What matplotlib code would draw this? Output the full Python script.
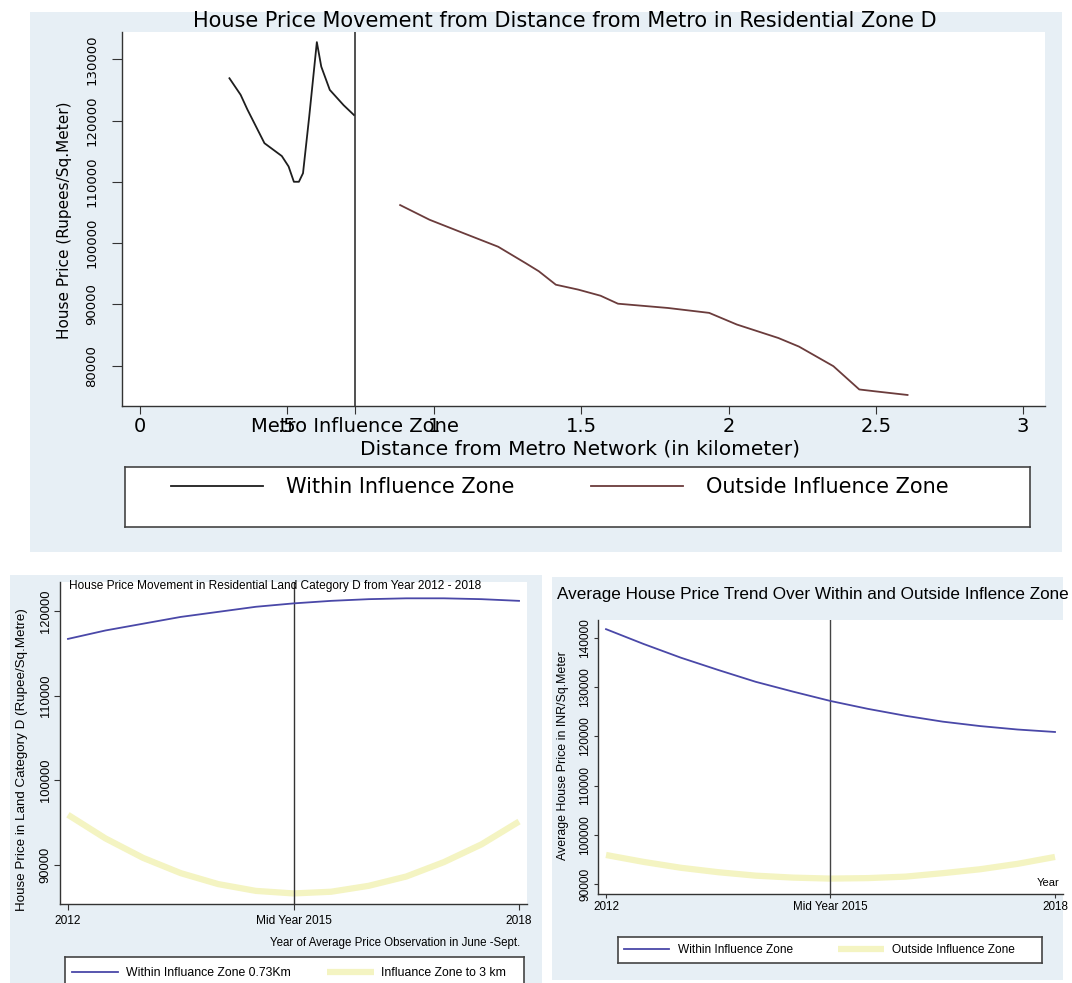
import matplotlib
matplotlib.use('Agg')
import matplotlib.pyplot as plt
from matplotlib.patches import Rectangle

W, H = 1072, 983

# top chart: price vs distance (km)
within_dist = [0.304, 0.342, 0.365, 0.423, 0.482, 0.505, 0.523, 0.540, 0.554, 0.575, 0.601, 0.616, 0.645, 0.692, 0.727]
within_price = [126900, 124200, 121800, 116300, 114200, 112500, 110000, 110000, 111400, 120600, 132800, 128800, 125000, 122500, 120900]
outside_dist = [0.884, 0.984, 1.100, 1.217, 1.311, 1.355, 1.413, 1.489, 1.565, 1.624, 1.794, 1.934, 2.028,
                2.169, 2.239, 2.356, 2.444, 2.497, 2.608]
outside_price = [106200, 103800, 101600, 99400, 96700, 95400, 93200, 92400, 91400, 90100, 89400, 88600, 86700,
                 84500, 83100, 79900, 76100, 75800, 75200]
dist_ticks = [0, 0.5, 0.73, 1, 1.5, 2, 2.5, 3]
dist_labels = ['0', '.5', 'Metro Influence Zone', '1', '1.5', '2', '2.5', '3']

# bottom charts: fitted curves read every half year
years = [2012, 2012.5, 2013, 2013.5, 2014, 2014.5, 2015, 2015.5, 2016, 2016.5, 2017, 2017.5, 2018]
year_ticks = [2012, 2015, 2018]
year_labels = ['2012', 'Mid Year 2015', '2018']
cat_d_within = [116700, 117700, 118500, 119300, 119900, 120500, 120900, 121200, 121400, 121500, 121500, 121400, 121200]
cat_d_outside = [95900, 93100, 90800, 89000, 87700, 86900, 86600, 86800, 87500, 88600, 90300, 92400, 95100]
avg_within = [141800, 138800, 136000, 133500, 131100, 129100, 127200, 125600, 124200, 123000, 122100, 121400, 120900]
avg_outside = [95900, 94500, 93300, 92400, 91700, 91300, 91100, 91200, 91500, 92200, 93000, 94100, 95500]

BG = '#E7EFF5'
BLUE = '#4a48a8'
YELLOW = '#F4F4C2'


def box(l, t, r, b):
    return [l / W, 1 - b / H, (r - l) / W, (b - t) / H]


def panel(fig, l, t, r, b):
    fig.patches.append(Rectangle((l / W, 1 - b / H), (r - l) / W, (b - t) / H,
                                 transform=fig.transFigure, facecolor=BG, edgecolor='none', zorder=-5))


def stata_axes(ax):
    ax.spines['top'].set_visible(False)
    ax.spines['right'].set_visible(False)
    for s in ['left', 'bottom']:
        ax.spines[s].set_color('#333333')
        ax.spines[s].set_linewidth(1.0)
    ax.set_facecolor('white')


def legend_box(fig, l, t, r, b):
    lax = fig.add_axes(box(l, t, r, b))
    lax.set_xticks([])
    lax.set_yticks([])
    lax.set_facecolor('white')
    for s in lax.spines.values():
        s.set_color('#444444')
        s.set_linewidth(1.2)
    return lax


fig = plt.figure(figsize=(W / 100, H / 100), dpi=100)
panel(fig, 30, 12, 1062, 552)
panel(fig, 10, 575, 542, 983)
panel(fig, 552, 577, 1063, 980)

# ---- top chart
ax = fig.add_axes(box(122, 32, 1045, 406))
stata_axes(ax)
l1, = ax.plot(within_dist, within_price, color='#1e1e1e', lw=1.3)
l2, = ax.plot(outside_dist, outside_price, color='#6b3c3c', lw=1.3)
ax.axvline(0.73, color='#222222', lw=1.1)
ax.set_xlim(-0.061, 3.075)
ax.set_ylim(73400, 134450)
ax.set_xticks(dist_ticks)
ax.set_xticklabels(dist_labels, fontsize=14)
ax.set_yticks(range(80000, 130001, 10000))
ax.set_yticklabels([str(v) for v in range(80000, 130001, 10000)], fontsize=9.5, rotation=90, va='center')
ax.tick_params(axis='x', length=6, pad=2, color='#333333')
ax.tick_params(axis='y', length=7, pad=10, color='#333333')
fig.text(565 / W, 1 - 21 / H, 'House Price Movement from Distance from Metro in Residential Zone D',
         ha='center', va='center', fontsize=15)
fig.text(580 / W, 1 - 449 / H, 'Distance from Metro Network (in kilometer)',
         ha='center', va='center', fontsize=14.5)
fig.text(64 / W, 1 - 220 / H, 'House Price (Rupees/Sq.Meter)', rotation=90,
         ha='center', va='center', fontsize=11)

lax = legend_box(fig, 125, 467, 1030, 527)
lax.legend([l1, l2], ['Within Influence Zone', 'Outside Influence Zone'], ncol=2, frameon=False,
           loc='center left', bbox_to_anchor=((171 - 125) / 905, 1 - 20 / 60), borderpad=0, borderaxespad=0,
           handlelength=4.4, handletextpad=1.1, columnspacing=3.7, fontsize=15)

# ---- bottom left chart
fnt = 'Liberation Sans'
ax2 = fig.add_axes(box(60, 582, 527, 904))
stata_axes(ax2)
b1, = ax2.plot(years, cat_d_within, color=BLUE, lw=1.3, zorder=3)
b2, = ax2.plot(years, cat_d_outside, color=YELLOW, lw=4.5, solid_capstyle='butt', zorder=2)
ax2.axvline(2015, color='#333333', lw=1.0)
ax2.set_xlim(2011.894, 2018.106)
ax2.set_ylim(85350, 123430)
ax2.set_xticks(year_ticks)
ax2.set_xticklabels(year_labels, fontsize=8.6, family=fnt)
ax2.set_yticks(range(90000, 120001, 10000))
ax2.set_yticklabels([str(v) for v in range(90000, 120001, 10000)], fontsize=9.3, family=fnt,
                    rotation=90, va='center')
ax2.tick_params(axis='x', length=4, pad=4, color='#333333')
ax2.tick_params(axis='y', length=4, pad=2, color='#333333')
fig.text(69 / W, 1 - 586 / H, 'House Price Movement in Residential Land Category D from Year 2012 - 2018',
         ha='left', va='center', fontsize=8.6, family=fnt)
fig.text(520 / W, 1 - 943 / H, 'Year of Average Price Observation in June -Sept.',
         ha='right', va='center', fontsize=8.3, family=fnt)
fig.text(22 / W, 1 - 760 / H, 'House Price in Land Category D (Rupee/Sq.Metre)', rotation=90,
         ha='center', va='center', fontsize=9.6, family=fnt)

lax2 = legend_box(fig, 65, 957, 524, 995)
lax2.legend([b1, b2], ['Within Influance Zone 0.73Km', 'Influance Zone to 3 km'], ncol=2, frameon=False,
            loc='center left', bbox_to_anchor=((72 - 65) / 459, 1 - 16 / 38), borderpad=0, borderaxespad=0,
            handlelength=3.8, handletextpad=0.6, columnspacing=3.0, prop={'family': fnt, 'size': 8.8})

# ---- bottom right chart
ax3 = fig.add_axes(box(598, 620, 1063, 894))
stata_axes(ax3)
c1, = ax3.plot(years, avg_within, color=BLUE, lw=1.3, zorder=3)
c2, = ax3.plot(years, avg_outside, color=YELLOW, lw=4.5, solid_capstyle='butt', zorder=2)
ax3.axvline(2015, color='#444444', lw=1.0)
ax3.set_xlim(2011.893, 2018.107)
ax3.set_ylim(87970, 143660)
ax3.set_xticks(year_ticks)
ax3.set_xticklabels(year_labels, fontsize=8.4, family=fnt)
ax3.set_yticks(range(90000, 140001, 10000))
ax3.set_yticklabels([str(v) for v in range(90000, 140001, 10000)], fontsize=8.6, family=fnt,
                    rotation=90, va='center')
ax3.tick_params(axis='x', length=3, pad=2, color='#333333')
ax3.tick_params(axis='y', length=3, pad=2, color='#333333')
fig.text(557 / W, 1 - 595 / H, 'Average House Price Trend Over Within and Outside Inflence Zone',
         ha='left', va='center', fontsize=12.3, family=fnt)
fig.text(1059 / W, 1 - 883 / H, 'Year', ha='right', va='center', fontsize=8, family=fnt)
fig.text(563 / W, 1 - 756 / H, 'Average House Price in INR/Sq.Meter', rotation=90,
         ha='center', va='center', fontsize=8.9, family=fnt)

lax3 = legend_box(fig, 618, 937, 1042, 963)
lax3.legend([c1, c2], ['Within Influence Zone', 'Outside Influence Zone'], ncol=2, frameon=False,
            loc='center left', bbox_to_anchor=((624 - 618) / 424, 0.5), borderpad=0, borderaxespad=0,
            handlelength=3.8, handletextpad=0.7, columnspacing=3.8, prop={'family': fnt, 'size': 8.6})

fig.savefig('out.png', dpi=100)
